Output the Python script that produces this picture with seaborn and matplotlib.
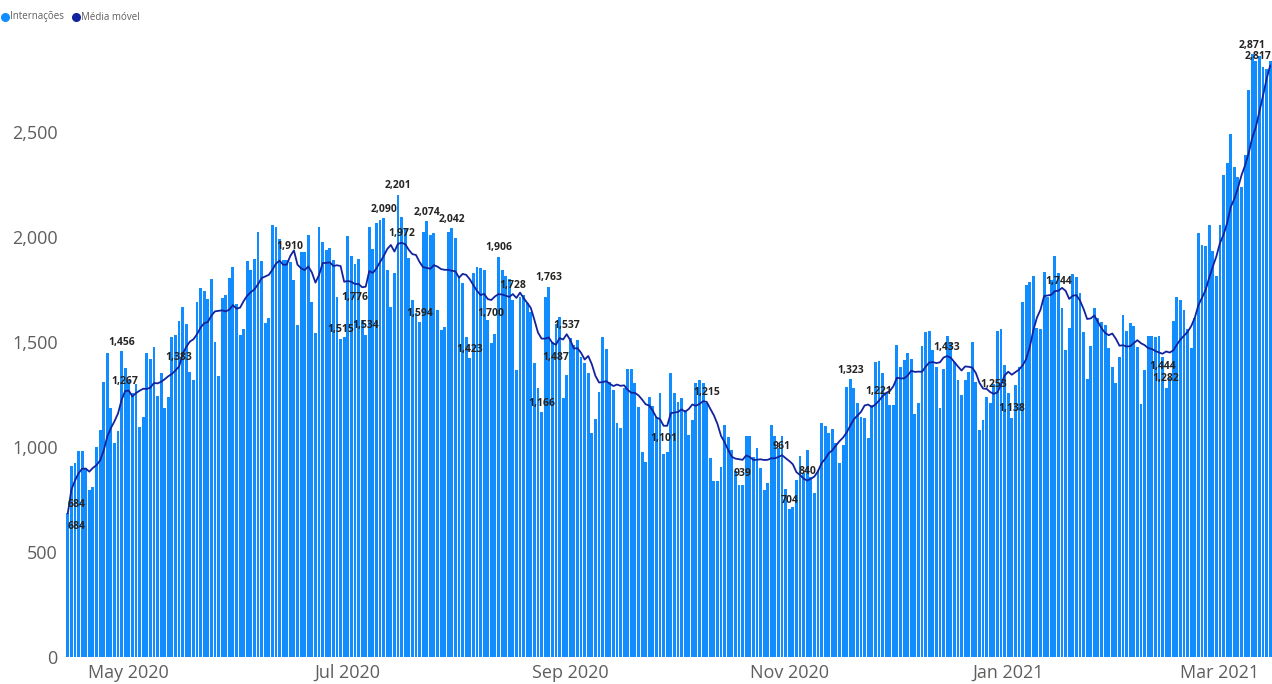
import pandas as pd
import matplotlib
matplotlib.use("Agg")
import matplotlib.pyplot as plt
from matplotlib.lines import Line2D
from matplotlib.ticker import FuncFormatter
import seaborn as sns

# Daily hospital admissions, starting 14 Apr 2020
first_day = "2020-04-14"
internacoes = [
    684, 910, 925, 982, 982, 900, 795,
    811, 1000, 1081, 1311, 1449, 1184, 1020,
    1075, 1456, 1374, 1319, 1255, 1300, 1097,
    1141, 1449, 1417, 1474, 1243, 1351, 1185,
    1240, 1526, 1534, 1602, 1665, 1586, 1359,
    1319, 1692, 1759, 1745, 1705, 1799, 1502,
    1338, 1708, 1724, 1803, 1856, 1681, 1534,
    1560, 1887, 1843, 1894, 2025, 1887, 1589,
    1613, 2057, 2049, 1990, 1890, 1890, 1881,
    1795, 1581, 1930, 1930, 2010, 1692, 1541,
    2049, 1978, 1938, 1946, 1890, 1716, 1515,
    1525, 2005, 1910, 1871, 1894, 1605, 1534,
    2046, 1941, 2065, 2081, 2090, 1843, 1668,
    1827, 2201, 2094, 2041, 1898, 1700, 1640,
    1594, 2025, 2074, 2010, 2018, 1652, 1557,
    1570, 2025, 2042, 1994, 1803, 1779, 1525,
    1423, 1827, 1856, 1851, 1843, 1606, 1494,
    1540, 1906, 1843, 1813, 1800, 1700, 1367,
    1716, 1724, 1684, 1644, 1400, 1279, 1166,
    1716, 1763, 1500, 1585, 1621, 1232, 1342,
    1517, 1486, 1510, 1430, 1398, 1351, 1065,
    1132, 1264, 1522, 1465, 1311, 1272, 1116,
    1089, 1280, 1370, 1370, 1307, 1189, 978,
    930, 1237, 1195, 1145, 1255, 967, 978,
    1351, 1256, 1216, 1232, 1176, 1057, 1129,
    1307, 1319, 1307, 1210, 946, 840, 840,
    907, 1105, 1050, 986, 885, 820, 820,
    1053, 1053, 951, 994, 899, 796, 827,
    1105, 1053, 994, 1053, 799, 704, 716,
    843, 957, 875, 986, 859, 779, 890,
    1113, 1100, 1065, 1084, 1017, 925, 1010,
    1284, 1323, 1279, 1208, 1144, 1136, 1042,
    1200, 1406, 1411, 1351, 1255, 1200, 1200,
    1486, 1382, 1414, 1446, 1417, 1157, 1211,
    1481, 1549, 1554, 1462, 1383, 1184, 1370,
    1529, 1494, 1406, 1319, 1248, 1319, 1359,
    1502, 1311, 1081, 1129, 1237, 1211, 1300,
    1554, 1560, 1391, 1256, 1138, 1296, 1383,
    1692, 1772, 1788, 1815, 1565, 1561, 1835,
    1714, 1796, 1910, 1827, 1661, 1462, 1565,
    1824, 1811, 1732, 1550, 1323, 1481, 1661,
    1613, 1597, 1581, 1470, 1380, 1306, 1430,
    1628, 1554, 1592, 1576, 1474, 1205, 1367,
    1528, 1528, 1522, 1528, 1430, 1282, 1330,
    1601, 1716, 1700, 1652, 1560, 1470, 1612,
    2020, 1962, 1958, 2058, 1931, 1812, 2058,
    2296, 2351, 2491, 2332, 2288, 2240, 2391,
    2700, 2871, 2840, 2860, 2810, 2800, 2838,
]

# Days whose bar value is printed
bar_label_days = [
    "2020-04-14", "2020-04-29", "2020-06-29", "2020-07-06", "2020-07-11",
    "2020-07-15", "2020-07-21", "2020-07-23", "2020-07-30", "2020-08-04",
    "2020-08-12", "2020-08-24", "2020-08-26", "2020-11-01", "2020-11-18",
    "2021-01-02", "2021-02-14", "2021-03-10",
]
bar_label_side = ["below"] + ["above"] * 17

# Days whose 7-day average is printed
line_label_days = [
    "2020-04-14", "2020-04-30", "2020-05-15", "2020-06-15", "2020-07-03",
    "2020-07-16", "2020-08-10", "2020-08-16", "2020-08-28", "2020-08-31",
    "2020-09-27", "2020-10-09", "2020-10-19", "2020-10-30", "2020-11-06",
    "2020-11-26", "2020-12-15", "2020-12-28", "2021-01-15", "2021-02-13",
    "2021-03-15",
]
line_label_side = [
    "above", "above", "above", "above", "below", "above", "below", "above",
    "below", "above", "below", "above", "below", "above", "above", "above",
    "above", "above", "above", "below", "above",
]

legend_names = ["Internações", "Média móvel"]

BAR_BLUE = "#118DFF"
LINE_BLUE = "#12239E"
TEXT_GREY = "#605E5C"
LABEL_DARK = "#252423"

dates = pd.date_range(first_day, periods=len(internacoes), freq="D")
df = pd.DataFrame({"dia": range(len(dates)), "data": dates,
                   "internacoes": internacoes})
df["media_movel"] = df["internacoes"].rolling(7, min_periods=1).mean()

sns.set_theme(style="white")
plt.rcParams["font.family"] = ["Open Sans", "DejaVu Sans"]

W, H = 1272, 684
fig = plt.figure(figsize=(W / 100, H / 100), dpi=100)
ax = fig.add_axes([66 / W, 27 / H, 1206 / W, 630 / H])

sns.barplot(data=df, x="dia", y="internacoes", native_scale=True,
            color=BAR_BLUE, saturation=1, width=0.8, errorbar=None,
            linewidth=0, ax=ax)
sns.lineplot(data=df, x="dia", y="media_movel", color=LINE_BLUE,
             linewidth=1.3, ax=ax)

ax.set_xlim(-0.5, len(df) - 0.5)
ax.set_ylim(0, 3000)
for s in ax.spines.values():
    s.set_visible(False)
ax.set_xlabel("")
ax.set_ylabel("")

ax.set_yticks(range(0, 3000, 500))
ax.yaxis.set_major_formatter(FuncFormatter(lambda v, _: f"{v:,.0f}"))
month_ticks = df[(df["data"].dt.day == 1) & (df["data"].dt.month % 2 == 1)]
ax.set_xticks(month_ticks["dia"])
ax.set_xticklabels([d.strftime("%b %Y") for d in month_ticks["data"]])
ax.tick_params(axis="both", length=0, labelsize=13, colors=TEXT_GREY)
ax.tick_params(axis="y", pad=6)
ax.tick_params(axis="x", pad=5)
ax.grid(False)


def put_label(day, value, side, dx=0):
    dy = 6.5 if side == "above" else -9.5
    ax.annotate(f"{round(value):,}", (day, value), xytext=(dx, dy),
                textcoords="offset points", ha="center", va="center",
                fontsize=7.5, fontweight="bold", color=LABEL_DARK,
                annotation_clip=False)


last = len(df) - 1
for d, side in zip(bar_label_days, bar_label_side):
    row = df[df["data"] == pd.Timestamp(d)].iloc[0]
    dx = 6 if row["dia"] == 0 else 0
    put_label(row["dia"], row["internacoes"], side, dx)
for d, side in zip(line_label_days, line_label_side):
    row = df[df["data"] == pd.Timestamp(d)].iloc[0]
    dx = 6 if row["dia"] == 0 else (-8.5 if row["dia"] == last else 0)
    put_label(row["dia"], row["media_movel"], side, dx)

# Legend row in the top-left corner: coloured dot followed by the series name
for (dot_x, text_x), colour, name in zip([(5, 10), (76, 81)],
                                         [BAR_BLUE, LINE_BLUE], legend_names):
    fig.add_artist(Line2D([dot_x / W], [1 - 17 / H], marker="o",
                          markersize=5.5, color=colour, linestyle="",
                          transform=fig.transFigure))
    fig.text(text_x / W, 1 - 17 / H, name, ha="left", va="center",
             fontsize=7, color=TEXT_GREY)

fig.savefig("out.png", dpi=100)
